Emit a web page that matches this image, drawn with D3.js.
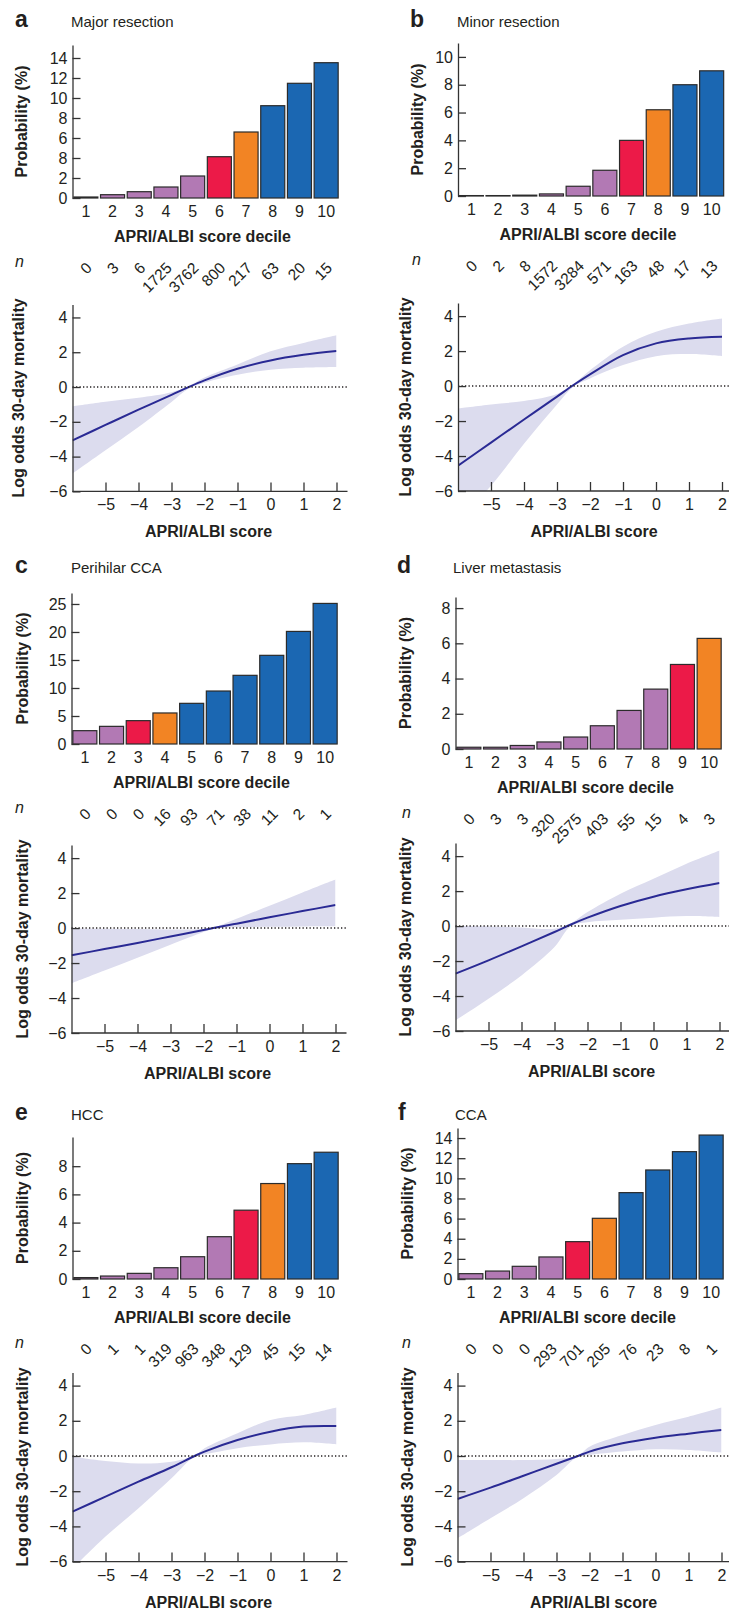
<!DOCTYPE html>
<html>
<head>
<meta charset="utf-8">
<script src="https://cdn.jsdelivr.net/npm/d3@7"></script>
<style>
  body { margin: 0; background: #fff; }
  svg { display: block; font-family: 'Liberation Sans', Arial, Helvetica, sans-serif; }
</style>
</head>
<body>
<div id="chart"></div>
<script>
// ---------- data ----------
var deciles = [1, 2, 3, 4, 5, 6, 7, 8, 9, 10];

// a  Major resection
var majorProb = [0.1, 0.33, 0.63, 1.1, 2.2, 4.13, 6.6, 9.23, 11.47, 13.53];
var majorN = [0, 3, 6, 1725, 3762, 800, 217, 63, 20, 15];
var majorGroup = ['low', 'low', 'low', 'low', 'low', 'threshold', 'elevated', 'high', 'high', 'high'];
var majorTicks = [0, 2, 4, 6, 8, 10, 12, 14];
var majorTickLabels = ['0', '2', '8', '6', '8', '10', '12', '14']; // as printed in the source figure
var majorScore = [-6, -5, -4, -3, -2.5, -2, -1, 0, 1, 2];
var majorFit = [-3.07, -2.18, -1.3, -0.45, -0.02, 0.38, 1.05, 1.53, 1.85, 2.07];
var majorLo = [-4.98, -3.64, -2.3, -0.86, -0.12, 0.25, 0.71, 1.0, 1.11, 1.15];
var majorHi = [-1.11, -0.85, -0.62, -0.3, 0.04, 0.55, 1.3, 2.05, 2.53, 2.97];

// b  Minor resection
var minorProb = [0.03, 0.03, 0.06, 0.15, 0.7, 1.85, 4.0, 6.2, 8.0, 9.0];
var minorN = [0, 2, 8, 1572, 3284, 571, 163, 48, 17, 13];
var minorGroup = ['low', 'low', 'low', 'low', 'low', 'low', 'threshold', 'elevated', 'high', 'high'];
var minorTicks = [0, 2, 4, 6, 8, 10];
var minorScore = [-6, -5, -4, -3, -2.5, -2, -1, 0, 1, 2];
var minorFit = [-4.55, -3.23, -1.91, -0.6, 0.06, 0.67, 1.77, 2.44, 2.72, 2.82];
var minorLo = [-7.7, -5.7, -3.3, -1.05, -0.02, 0.44, 1.2, 1.71, 1.83, 1.71];
var minorHi = [-1.28, -1.05, -0.85, -0.45, 0.12, 0.9, 2.25, 3.1, 3.58, 3.87];

// c  Perihilar CCA
var perihilarProb = [2.38, 3.15, 4.17, 5.54, 7.26, 9.46, 12.26, 15.83, 20.1, 25.1];
var perihilarN = [0, 0, 0, 16, 93, 71, 38, 11, 2, 1];
var perihilarGroup = ['low', 'low', 'threshold', 'elevated', 'high', 'high', 'high', 'high', 'high', 'high'];
var perihilarTicks = [0, 5, 10, 15, 20, 25];
var perihilarScore = [-6, -5, -4, -3, -2, -1.7, -1, 0, 1, 2];
var perihilarFit = [-1.56, -1.2, -0.85, -0.48, -0.11, 0.0, 0.25, 0.62, 0.97, 1.32];
var perihilarLo = [-3.15, -2.42, -1.69, -0.95, -0.22, -0.02, 0.04, 0.07, 0.09, 0.1];
var perihilarHi = [-0.02, -0.04, -0.06, -0.08, -0.05, 0.02, 0.53, 1.28, 2.04, 2.78];

// d  Liver metastasis
var metaProb = [0.1, 0.1, 0.2, 0.4, 0.68, 1.32, 2.19, 3.4, 4.8, 6.28];
var metaN = [0, 3, 3, 320, 2575, 403, 55, 15, 4, 3];
var metaGroup = ['low', 'low', 'low', 'low', 'low', 'low', 'low', 'low', 'threshold', 'elevated'];
var metaTicks = [0, 2, 4, 6, 8];
var metaScore = [-6, -5, -4, -3, -2.5, -2, -1, 0, 1, 2];
var metaFit = [-2.72, -1.96, -1.16, -0.34, 0.09, 0.48, 1.15, 1.68, 2.1, 2.46];
var metaLo = [-5.39, -4.15, -2.82, -1.2, 0.0, 0.22, 0.36, 0.48, 0.57, 0.51];
var metaHi = [0.0, -0.02, -0.08, -0.15, 0.16, 0.8, 1.85, 2.7, 3.56, 4.32];

// e  HCC
var hccProb = [0.1, 0.21, 0.4, 0.8, 1.58, 3.0, 4.88, 6.77, 8.18, 8.99];
var hccN = [0, 1, 1, 319, 963, 348, 129, 45, 15, 14];
var hccGroup = ['low', 'low', 'low', 'low', 'low', 'low', 'threshold', 'elevated', 'high', 'high'];
var hccTicks = [0, 2, 4, 6, 8];
var hccScore = [-6, -5, -4, -3, -2.3, -2, -1, 0, 1, 2];
var hccFit = [-3.16, -2.31, -1.46, -0.64, 0.0, 0.25, 0.91, 1.38, 1.67, 1.7];
var hccLo = [-6.4, -4.58, -2.97, -1.27, -0.03, 0.09, 0.44, 0.66, 0.78, 0.66];
var hccHi = [-0.04, -0.28, -0.42, -0.32, 0.03, 0.44, 1.29, 2.05, 2.33, 2.75];

// f  CCA
var ccaProb = [0.53, 0.79, 1.26, 2.19, 3.71, 6.03, 8.58, 10.83, 12.65, 14.3];
var ccaN = [0, 0, 0, 293, 701, 205, 76, 23, 8, 1];
var ccaGroup = ['low', 'low', 'low', 'low', 'threshold', 'elevated', 'high', 'high', 'high', 'high'];
var ccaTicks = [0, 2, 4, 6, 8, 10, 12, 14];
var ccaScore = [-6, -5, -4, -3, -2.35, -2, -1, 0, 1, 2];
var ccaFit = [-2.44, -1.8, -1.12, -0.44, 0.0, 0.25, 0.72, 1.04, 1.27, 1.48];
var ccaLo = [-4.68, -3.54, -2.4, -1.08, -0.03, 0.06, 0.25, 0.38, 0.34, 0.19];
var ccaHi = [-0.23, -0.23, -0.23, -0.17, 0.03, 0.53, 1.19, 1.76, 2.23, 2.75];

var logOddsTicks = [-6, -4, -2, 0, 2, 4];
var scoreTicks = [-5, -4, -3, -2, -1, 0, 1, 2];

// ---------- style ----------
var groupColor = {
  low: '#b279b4',
  threshold: '#ec1a48',
  elevated: '#f28424',
  high: '#1b67b2'
};
var ink = '#231f20';

// ---------- panels ----------
var panels = [
  { letter: 'a', title: 'Major resection', prob: majorProb, n: majorN, group: majorGroup, ticks: majorTicks, tickLabels: majorTickLabels,
    score: majorScore, fit: majorFit, lo: majorLo, hi: majorHi,
    L: { axisX: 72.5, letterX: 15, titleX: 71, headY: 27, barY0: 198, barTop: 45, barMax: 15.3, lineBottom: 491.4, lineTop: 304.4, barTitleX: 27, lineTitleX: 24, nX: 15 } },
  { letter: 'b', title: 'Minor resection', prob: minorProb, n: minorN, group: minorGroup, ticks: minorTicks,
    score: minorScore, fit: minorFit, lo: minorLo, hi: minorHi,
    L: { axisX: 458, letterX: 410, titleX: 457, headY: 27, barY0: 196, barTop: 43, barMax: 11.0, lineBottom: 491, lineTop: 303, barTitleX: 423, lineTitleX: 411, nX: 412 } },
  { letter: 'c', title: 'Perihilar CCA', prob: perihilarProb, n: perihilarN, group: perihilarGroup, ticks: perihilarTicks,
    score: perihilarScore, fit: perihilarFit, lo: perihilarLo, hi: perihilarHi,
    L: { axisX: 71.5, letterX: 15, titleX: 71, headY: 573, barY0: 744, barTop: 593, barMax: 26.96, lineBottom: 1033, lineTop: 845, barTitleX: 28, lineTitleX: 28, nX: 15 } },
  { letter: 'd', title: 'Liver metastasis', prob: metaProb, n: metaN, group: metaGroup, ticks: metaTicks,
    score: metaScore, fit: metaFit, lo: metaLo, hi: metaHi,
    L: { axisX: 455.5, letterX: 397, titleX: 453, headY: 573, barY0: 749, barTop: 597, barMax: 8.63, lineBottom: 1031, lineTop: 843, barTitleX: 411, lineTitleX: 411, nX: 402 } },
  { letter: 'e', title: 'HCC', prob: hccProb, n: hccN, group: hccGroup, ticks: hccTicks,
    score: hccScore, fit: hccFit, lo: hccLo, hi: hccHi,
    L: { axisX: 72.5, letterX: 15, titleX: 71, headY: 1120, barY0: 1279, barTop: 1137, barMax: 10.07, lineBottom: 1561.6, lineTop: 1372.4, barTitleX: 28, lineTitleX: 28, nX: 15 } },
  { letter: 'f', title: 'CCA', prob: ccaProb, n: ccaN, group: ccaGroup, ticks: ccaTicks,
    score: ccaScore, fit: ccaFit, lo: ccaLo, hi: ccaHi,
    L: { axisX: 457.5, letterX: 398, titleX: 455, headY: 1120, barY0: 1279, barTop: 1128, barMax: 15.0, lineBottom: 1561.6, lineTop: 1372.4, barTitleX: 413, lineTitleX: 413, nX: 402 } }
];

var svg = d3.select('#chart')
  .append('svg')
  .attr('width', 729)
  .attr('height', 1615);

var defs = svg.append('defs');

function styleAxis(g) {
  g.attr('font-size', null).attr('font-family', null);
  g.selectAll('path, line').attr('stroke', '#333').attr('stroke-width', 1.3);
  g.selectAll('text').attr('fill', ink).attr('font-size', 16);
}

var smooth = d3.curveCatmullRom.alpha(0.5);

panels.forEach(function (p) {
  var L = p.L;
  var g = svg.append('g');

  // heading
  g.append('text')
    .attr('x', L.letterX).attr('y', L.headY)
    .attr('font-size', 23).attr('font-weight', 'bold').attr('fill', ink)
    .text(p.letter);
  g.append('text')
    .attr('x', L.titleX).attr('y', L.headY)
    .attr('font-size', 15).attr('fill', ink)
    .text(p.title);

  /* ---------- bar chart ---------- */
  var x = d3.scaleBand()
    .domain(deciles)
    .range([L.axisX, L.axisX + 267])
    .paddingInner(0.1)
    .paddingOuter(0.05);

  var y = d3.scaleLinear()
    .domain([0, L.barMax])
    .range([L.barY0, L.barTop]);

  var rows = deciles.map(function (d, i) {
    return { decile: d, prob: p.prob[i], n: p.n[i], group: p.group[i] };
  });

  g.append('g')
    .selectAll('rect')
    .data(rows)
    .enter()
    .append('rect')
    .attr('x', d => x(d.decile))
    .attr('width', x.bandwidth())
    .attr('y', d => y(d.prob))
    .attr('height', d => y(0) - y(d.prob))
    .attr('fill', d => groupColor[d.group])
    .attr('stroke', '#2b2b2b')
    .attr('stroke-width', 1.2);

  var yAxis = d3.axisLeft(y)
    .tickValues(p.ticks)
    .tickSizeInner(-8)
    .tickSizeOuter(0)
    .tickPadding(5);
  if (p.tickLabels) {
    yAxis.tickFormat((d, i) => p.tickLabels[i]);
  }
  g.append('g')
    .attr('transform', 'translate(' + L.axisX + ',0)')
    .call(yAxis)
    .call(styleAxis);

  g.append('g')
    .attr('transform', 'translate(0,' + L.barY0 + ')')
    .call(d3.axisBottom(x).tickSize(0).tickPadding(7.6))
    .call(styleAxis)
    .call(a => a.select('.domain').remove());

  g.append('text')
    .attr('x', L.axisX + 130).attr('y', L.barY0 + 44)
    .attr('text-anchor', 'middle')
    .attr('font-size', 16).attr('font-weight', 'bold').attr('fill', ink)
    .text('APRI/ALBI score decile');

  g.append('text')
    .attr('transform', 'translate(' + L.barTitleX + ',' + (L.barY0 + L.barTop) / 2 + ') rotate(-90)')
    .attr('text-anchor', 'middle')
    .attr('font-size', 16).attr('font-weight', 'bold').attr('fill', ink)
    .text('Probability (%)');

  // n row
  g.append('text')
    .attr('x', L.nX).attr('y', L.barY0 + 69)
    .attr('font-size', 16).attr('font-style', 'italic').attr('fill', ink)
    .text('n');

  g.append('g')
    .selectAll('text')
    .data(rows)
    .enter()
    .append('text')
    .attr('transform', d => 'translate(' + (x(d.decile) + x.bandwidth() / 2 + 7) + ',' + (L.barY0 + 71) + ') rotate(-45)')
    .attr('text-anchor', 'end')
    .attr('font-size', 15.5).attr('fill', ink)
    .text(d => d.n);

  /* ---------- spline chart ---------- */
  var sx = d3.scaleLinear()
    .domain([-6, 2])
    .range([L.axisX, L.axisX + 264]);

  var sy = d3.scaleLinear()
    .domain([-6, 4.75])
    .range([L.lineBottom, L.lineTop]);

  var curve = p.score.map(function (s, i) {
    return { score: s, fit: p.fit[i], lo: p.lo[i], hi: p.hi[i] };
  });

  var clipId = 'clip-' + p.letter;
  defs.append('clipPath')
    .attr('id', clipId)
    .append('rect')
    .attr('x', L.axisX).attr('y', L.lineTop)
    .attr('width', 264).attr('height', L.lineBottom - L.lineTop);

  var plot = g.append('g').attr('clip-path', 'url(#' + clipId + ')');

  plot.append('path')
    .datum(curve)
    .attr('fill', '#dcdcee')
    .attr('d', d3.area()
      .curve(smooth)
      .x(d => sx(d.score))
      .y0(d => sy(d.lo))
      .y1(d => sy(d.hi)));

  // reference line at 0
  g.append('line')
    .attr('x1', L.axisX).attr('x2', L.axisX + 275)
    .attr('y1', sy(0)).attr('y2', sy(0))
    .attr('stroke', ink)
    .attr('stroke-width', 1.4)
    .attr('stroke-dasharray', '1.3,2.2');

  plot.append('path')
    .datum(curve)
    .attr('fill', 'none')
    .attr('stroke', '#2a2a94')
    .attr('stroke-width', 2)
    .attr('d', d3.line()
      .curve(smooth)
      .x(d => sx(d.score))
      .y(d => sy(d.fit)));

  g.append('g')
    .attr('transform', 'translate(' + L.axisX + ',0)')
    .call(d3.axisLeft(sy)
      .tickValues(logOddsTicks)
      .tickSizeInner(-8)
      .tickSizeOuter(0)
      .tickPadding(5))
    .call(styleAxis);

  g.append('g')
    .attr('transform', 'translate(0,' + L.lineBottom + ')')
    .call(d3.axisBottom(sx)
      .tickValues(scoreTicks)
      .tickSizeInner(-9)
      .tickSizeOuter(0)
      .tickPadding(7.6))
    .call(styleAxis)
    .call(a => a.select('.domain').remove());

  g.append('line')
    .attr('x1', L.axisX).attr('x2', L.axisX + 275)
    .attr('y1', L.lineBottom).attr('y2', L.lineBottom)
    .attr('stroke', '#333').attr('stroke-width', 1.3);

  g.append('text')
    .attr('x', L.axisX + 136).attr('y', L.lineBottom + 46)
    .attr('text-anchor', 'middle')
    .attr('font-size', 16).attr('font-weight', 'bold').attr('fill', ink)
    .text('APRI/ALBI score');

  g.append('text')
    .attr('transform', 'translate(' + L.lineTitleX + ',' + (L.lineBottom + L.lineTop) / 2 + ') rotate(-90)')
    .attr('text-anchor', 'middle')
    .attr('font-size', 16).attr('font-weight', 'bold').attr('fill', ink)
    .text('Log odds 30-day mortality');
});
</script>
</body>
</html>
